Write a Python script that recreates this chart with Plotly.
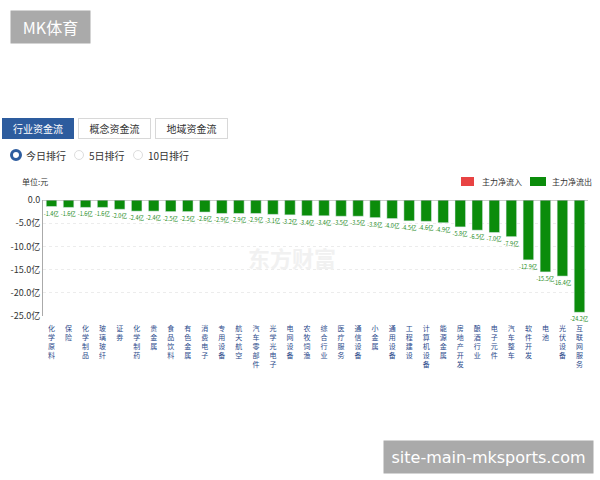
import plotly.graph_objects as go

categories = ["化学原料", "保险", "化学制品", "玻璃玻纤", "证券", "化学制药", "贵金属", "食品饮料",
              "有色金属", "消费电子", "专用设备", "航天航空", "汽车零部件", "光学光电子", "电网设备",
              "农牧饲渔", "综合行业", "医疗服务", "通信设备", "小金属", "通用设备", "工程建设",
              "计算机设备", "能源金属", "房地产开发", "酿酒行业", "电子元件", "汽车整车", "软件开发",
              "电池", "光伏设备", "互联网服务"]
net_outflow = [-1.4, -1.6, -1.6, -1.6, -2.0, -2.4, -2.4, -2.5, -2.5, -2.6, -2.9, -2.9, -2.9,
               -3.1, -3.2, -3.4, -3.4, -3.5, -3.5, -3.8, -4.0, -4.5, -4.6, -4.9, -5.8, -6.5,
               -7.0, -7.9, -12.9, -15.5, -16.4, -24.2]
y_tickvals = [0, -5, -10, -15, -20, -25]
y_ticktext = ["0.0", "-5.0亿", "-10.0亿", "-15.0亿", "-20.0亿", "-25.0亿"]
tab_labels = ["行业资金流", "概念资金流", "地域资金流"]
radio_labels = ["今日排行", "5日排行", "10日排行"]
legend_names = ["主力净流入", "主力净流出"]
legend_colors = ["#e84343", "#0b8c0b"]

FONT = "Noto Sans CJK SC, Noto Sans, sans-serif"
W, H = 600, 480
L, R, T, B = 43, 12, 200, 164
PW, PH = W - L - R, H - T - B


def px(x):
    return (x - L) / PW


def py(y):
    return (H - B - y) / PH


vertical_labels = ["<br>".join(list(c)) for c in categories]

fig = go.Figure()
fig.add_trace(go.Bar(
    x=vertical_labels, y=net_outflow, name=legend_names[1], marker_color=legend_colors[1],
    text=[f"{v:.1f}亿" for v in net_outflow], textposition="outside",
    textfont=dict(size=5.5, color="#1b8a1b", family=FONT), constraintext="none",
    cliponaxis=False, showlegend=False,
))

fig.update_layout(
    width=W, height=H, margin=dict(l=L, r=R, t=T, b=B, autoexpand=False),
    paper_bgcolor="white", plot_bgcolor="white",
    font=dict(family=FONT, color="#333"),
    bargap=0.38,
    showlegend=False,
    xaxis=dict(type="category", showgrid=False, showline=False, ticks="",
               tickfont=dict(size=7, color="#2c4b8c"), tickangle=0, ticklabelstandoff=7,
               range=[-0.5, len(categories) - 0.5], fixedrange=True),
    yaxis=dict(range=[-25, 0], tickvals=y_tickvals, ticktext=y_ticktext,
               tickfont=dict(size=9, color="#333"), showgrid=True, gridcolor="#ececec",
               griddash="dot", zeroline=False, showline=True, linecolor="#aaa",
               linewidth=1, ticks="", fixedrange=True),
)

# zero line at top
fig.add_shape(type="line", xref="paper", yref="y", x0=0, x1=1, y0=0, y1=0,
              line=dict(color="#999", width=1))

annotations = []
# legend (manual)
leg_boxes = [(461, 474), (530, 546)]
leg_text_x = [480, 550]
for name, col, (x0, x1), tx in zip(legend_names, legend_colors, leg_boxes, leg_text_x):
    fig.add_shape(type="rect", xref="paper", yref="paper", x0=px(x0), x1=px(x1),
                  y0=py(186), y1=py(177), fillcolor=col, line=dict(width=0))
    annotations.append(dict(xref="paper", yref="paper", x=px(tx), y=py(181.5), xanchor="left",
                            yanchor="middle", text=name, showarrow=False,
                            font=dict(size=8, color="#333", family=FONT)))
# watermark top-left
annotations.append(dict(xref="paper", yref="paper", x=px(10), y=py(10), xanchor="left", yanchor="top",
                        text="MK体育", showarrow=False, bgcolor="#aaaaaa", width=77, height=30,
                        font=dict(size=16, color="white", family=FONT)))
# watermark bottom-right
annotations.append(dict(xref="paper", yref="paper", x=px(383), y=py(440), xanchor="left", yanchor="top",
                        text="site-main-mksports.com", showarrow=False, bgcolor="#aaaaaa",
                        width=207, height=30,
                        font=dict(size=16, color="white", family="DejaVu Sans, sans-serif")))
# tabs
tab_x = [(2, 72), (78, 149), (155, 226)]
for i, (lab, (x0, x1)) in enumerate(zip(tab_labels, tab_x)):
    active = i == 0
    annotations.append(dict(xref="paper", yref="paper", x=px(x0), y=py(118), xanchor="left",
                            yanchor="top", text=lab, showarrow=False,
                            bgcolor="#2d5c9e" if active else "white",
                            bordercolor="#2d5c9e" if active else "#d8d8d8", borderwidth=1,
                            width=x1 - x0 - 2, height=17,
                            font=dict(size=10, color="white" if active else "#333", family=FONT)))
# radios
radio_cx = [16, 79, 138]
for i, (lab, cx) in enumerate(zip(radio_labels, radio_cx)):
    active = i == 0
    fig.add_shape(type="circle", xref="paper", yref="paper",
                  x0=px(cx - 4.5), x1=px(cx + 4.5), y0=py(155 + 4.5), y1=py(155 - 4.5),
                  line=dict(color="#2d5c9e" if active else "#dddddd", width=3 if active else 1),
                  fillcolor="white")
    annotations.append(dict(xref="paper", yref="paper", x=px(cx + 8), y=py(155), xanchor="left",
                            yanchor="middle", text=lab, showarrow=False,
                            font=dict(size=10, color="#333", family=FONT)))
# unit
annotations.append(dict(xref="paper", yref="paper", x=px(20), y=py(181), xanchor="left",
                        yanchor="middle", text="单位:元", showarrow=False,
                        font=dict(size=8, color="#333", family=FONT)))
# faint brand watermark
annotations.append(dict(xref="paper", yref="paper", x=px(292), y=py(257), xanchor="center",
                        yanchor="middle", text="<b>东方财富</b>", showarrow=False,
                        font=dict(size=22, color="#f1f1f1", family=FONT)))
fig.update_layout(annotations=annotations)

fig.write_html("out.html")
